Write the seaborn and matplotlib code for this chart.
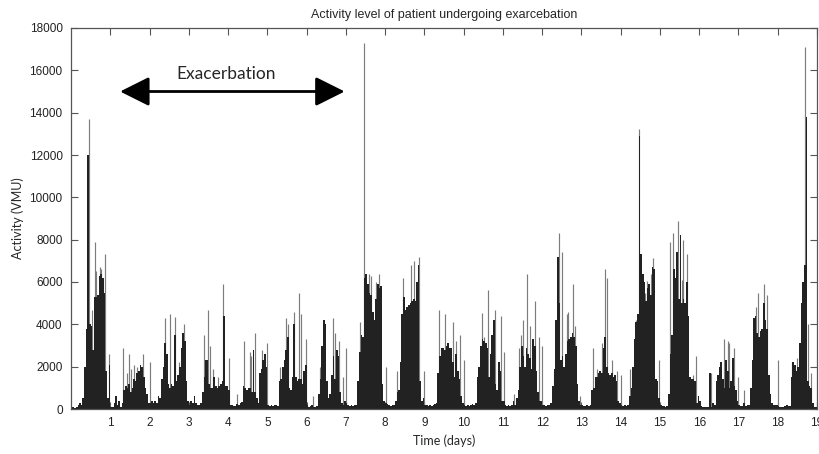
import numpy as np
import pandas as pd
import seaborn as sns
import matplotlib.pyplot as plt

# hourly activity (VMU), one list of 24 values per day
day00 = [100, 100, 50, 100, 200, 300, 200, 500, 2000, 3800, 12000, 4000, 3900, 2800, 5300, 5300, 5400, 6300, 6400, 6200, 5500, 1800, 500, 2100]
day01 = [100, 100, 300, 600, 200, 400, 100, 300, 900, 1100, 1000, 1200, 800, 1000, 1400, 1300, 1700, 1800, 2100, 2000, 1500, 1000, 700, 300]
day02 = [300, 400, 300, 400, 300, 600, 500, 1400, 2000, 3100, 2600, 1200, 1000, 1200, 1100, 3500, 1300, 1600, 2000, 2900, 3600, 3200, 1300, 400]
day03 = [200, 400, 300, 600, 300, 200, 200, 300, 800, 1500, 2300, 2300, 1200, 1000, 1000, 1500, 1100, 1000, 1100, 1200, 1300, 4400, 1100, 1100]
day04 = [900, 200, 200, 150, 150, 250, 200, 300, 350, 1100, 1000, 900, 1000, 1000, 800, 2800, 800, 500, 300, 1700, 1900, 2300, 2600, 2000]
day05 = [200, 150, 200, 150, 200, 200, 150, 1300, 1400, 2000, 2300, 2800, 3400, 1000, 900, 1500, 4000, 1500, 1300, 1400, 1400, 1200, 1800, 2100]
day06 = [200, 100, 150, 200, 100, 100, 150, 700, 1400, 3000, 4200, 4000, 1300, 500, 700, 1600, 2500, 1400, 2800, 2500, 800, 300, 200, 400]
day07 = [300, 200, 150, 200, 150, 200, 200, 1300, 2700, 3500, 3400, 6200, 6400, 5900, 5500, 5400, 4600, 4200, 5200, 5900, 5700, 5800, 1200, 400]
day08 = [300, 250, 200, 150, 200, 200, 400, 800, 900, 2200, 4500, 5300, 4700, 4800, 4900, 5000, 5100, 5200, 5100, 6000, 6800, 1300, 400, 500]
day09 = [200, 200, 150, 200, 150, 200, 250, 300, 1700, 2500, 2900, 2900, 2800, 3000, 3100, 2900, 2900, 2200, 1500, 2600, 1800, 1400, 600, 300]
day10 = [200, 150, 200, 150, 200, 250, 200, 300, 1500, 2000, 3000, 3300, 3200, 3100, 2900, 1500, 2600, 3500, 4200, 1200, 900, 2200, 1800, 400]
day11 = [400, 200, 150, 200, 150, 200, 400, 200, 500, 900, 2000, 3000, 2500, 2000, 2900, 2600, 2400, 1900, 3300, 3000, 1800, 800, 400, 400]
day12 = [200, 200, 150, 200, 200, 300, 1100, 1900, 4200, 7200, 5000, 2300, 2500, 2000, 2600, 3200, 3300, 3400, 3600, 3400, 3000, 1200, 400, 200]
day13 = [200, 150, 150, 200, 150, 200, 900, 1000, 1500, 1500, 1700, 1800, 1700, 2900, 3400, 2000, 1700, 1600, 1700, 1500, 1600, 1300, 400, 300]
day14 = [200, 150, 200, 150, 200, 600, 1000, 2000, 3300, 4100, 4500, 12900, 7300, 6400, 6000, 5100, 5700, 5900, 5400, 6700, 6600, 1400, 1300, 500]
day15 = [200, 150, 150, 100, 150, 700, 2600, 3500, 6600, 6200, 7400, 5200, 8200, 5000, 5200, 5000, 6000, 4400, 1500, 1400, 1400, 1300, 300, 600]
day16 = [400, 150, 100, 100, 100, 100, 1700, 100, 300, 200, 1300, 1600, 2000, 2200, 1400, 1000, 2300, 1800, 1000, 1300, 2400, 1100, 900, 400]
day17 = [200, 150, 150, 300, 150, 200, 200, 1000, 2300, 4300, 4400, 3600, 3400, 3700, 3800, 5000, 4200, 3800, 1600, 700, 300, 200, 200, 200]
day18 = [150, 100, 100, 100, 150, 200, 150, 150, 1500, 2200, 2100, 1800, 2000, 3100, 5000, 6000, 6800, 13800, 1300, 1100, 1000, 300, 100, 100]

# short peaks (time in days, activity in VMU)
spike_days = [0.447, 0.534, 0.600, 0.643, 0.727, 0.770, 0.872, 0.973,
              1.337, 1.423, 1.489, 1.532, 1.609, 1.685, 1.845,
              2.015, 2.389, 2.531, 2.658, 2.740, 2.879,
              3.388, 3.489, 3.548, 3.616, 3.743, 3.870, 4.023,
              4.234, 4.396, 4.549, 4.590, 4.676, 4.862, 4.981,
              5.319, 5.479, 5.530, 5.692, 5.802, 5.860, 5.987, 6.158,
              6.330, 6.666, 6.724, 6.826, 6.920, 7.004,
              7.370, 7.459, 7.581, 7.639, 7.759, 7.843, 8.025,
              8.303, 8.457, 8.666, 8.732, 8.872, 8.996,
              9.377, 9.520, 9.728, 9.809, 9.911, 10.013,
              10.465, 10.521, 10.610, 10.803, 10.943, 11.037,
              11.283, 11.410, 11.451, 11.520, 11.626, 11.690, 11.820, 11.919, 12.003,
              12.307, 12.417, 12.503, 12.620, 12.651, 12.796, 12.849, 12.976,
              13.306, 13.400, 13.535, 13.609, 13.662, 13.782, 13.916, 14.003,
              14.226, 14.384, 14.468, 14.620, 14.679, 14.765, 14.831, 14.976,
              15.257, 15.343, 15.453, 15.554, 15.597, 15.681, 15.834, 15.918,
              16.297, 16.635, 16.722, 16.762, 16.890, 16.983, 17.143,
              17.398, 17.449, 17.510, 17.662, 17.738, 18.018,
              18.374, 18.491, 18.700, 18.770, 18.856]
spike_vals = [13700, 4700, 7900, 6500, 6700, 6600, 7300, 2600,
              2900, 1700, 2600, 1900, 2100, 2000, 2600,
              2200, 4300, 4500, 4350, 2200, 4000,
              3500, 4700, 3000, 1900, 1500, 5900, 2400,
              700, 3200, 2700, 2500, 3600, 2800, 3100,
              2000, 4300, 4000, 4600, 5500, 4500, 3300, 600,
              2000, 4300, 3600, 3200, 1500, 2900,
              4100, 17300, 6400, 6300, 6000, 6400, 2000,
              1800, 6200, 6800, 7000, 7200, 1800,
              4700, 4500, 4100, 3200, 3500, 2300,
              4550, 3400, 5600, 4700, 4400, 2700,
              700, 2900, 3500, 4200, 6400, 3900, 5100, 3400, 3000,
              1800, 8300, 7400, 4500, 4600, 5900, 3900, 600,
              2900, 1900, 3100, 6600, 6200, 2300, 1800, 1600,
              1900, 4200, 13250, 5500, 6050, 6400, 7130, 2300,
              7900, 8300, 8900, 6100, 8000, 7300, 1600, 2500,
              1700, 3300, 3200, 3100, 2900, 1500, 900,
              3700, 4800, 5500, 5900, 5400, 2300,
              2200, 2400, 17100, 4000, 1700]

days = [day00, day01, day02, day03, day04, day05, day06, day07, day08, day09,
        day10, day11, day12, day13, day14, day15, day16, day17, day18]
activity = np.concatenate(days)
df = pd.DataFrame({'time': (np.arange(len(activity)) + 0.5) / 24, 'activity': activity})

sns.set_theme(style='ticks')
plt.rcParams['font.family'] = ['Liberation Sans', 'DejaVu Sans']

fig = plt.figure(figsize=(8.19, 4.54), dpi=100)
ax = fig.add_axes([71 / 819, 1 - 409 / 454, (817 - 71) / 819, (409 - 28) / 454])

# thin peaks drawn in grey behind the hourly bars
ax.vlines(spike_days, 0, spike_vals, color='#7c7c7c', lw=0.85, zorder=1)
sns.histplot(data=df, x='time', weights='activity', binwidth=1 / 24, binrange=(0, 19),
             color='#222222', alpha=1, linewidth=0, ax=ax, zorder=2)

ax.set_xlim(0, 19)
ax.set_ylim(0, 18000)
ax.set_xticks(range(1, 20))
ax.set_yticks(range(0, 18001, 2000))
ax.tick_params(direction='in', top=True, right=True, length=5, width=0.8,
               color='#555555', labelsize=8.5, labelcolor='#222222', pad=6)
for s in ax.spines.values():
    s.set_color('#555555')
    s.set_linewidth(0.9)

ax.set_title('Activity level of patient undergoing exarcebation', fontsize=9, pad=7)
ax.set_xlabel('Time (days)', fontsize=9, family=['Lato', 'DejaVu Sans'], labelpad=4)
ax.set_ylabel('Activity (VMU)', fontsize=9, family=['Lato', 'DejaVu Sans'], labelpad=4)

# exacerbation period marker
ax.annotate('', xy=(6.97, 15000), xytext=(1.25, 15000),
            arrowprops=dict(arrowstyle='<|-|>,head_length=1.5,head_width=0.75',
                            mutation_scale=12, lw=2, color='black', shrinkA=0, shrinkB=0))
ax.text(3.95, 15850, 'Exacerbation', fontsize=12.5, family=['Lato', 'DejaVu Sans'],
        ha='center', va='center')

fig.savefig('out.png', dpi=100)
